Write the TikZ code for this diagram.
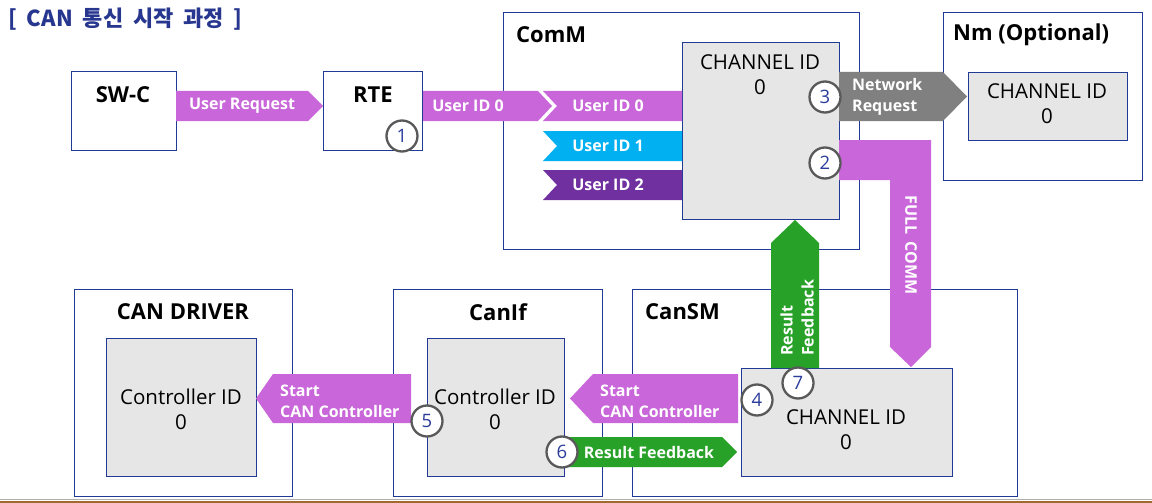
\documentclass[tikz,border=0pt]{standalone}
\usepackage{fontspec}
\setmainfont{Open Sans}
\newfontfamily\krfont{Noto Sans CJK KR}
\definecolor{boxblue}{HTML}{203A96}
\definecolor{ingray}{HTML}{E6E6E6}
\definecolor{apink}{HTML}{C966D9}
\definecolor{acyan}{HTML}{00B0F0}
\definecolor{apurple}{HTML}{7030A0}
\definecolor{agray}{HTML}{808080}
\definecolor{agreen}{HTML}{27A127}
\definecolor{numblue}{HTML}{2B3C9B}
\definecolor{numgray}{HTML}{595959}
\definecolor{titleblue}{HTML}{27368F}
\definecolor{linegray}{HTML}{B0B0B0}
\definecolor{linebrown}{HTML}{A0692D}
\begin{document}
\begin{tikzpicture}[x=1pt,y=-1pt,
  box/.style={draw=boxblue, line width=1pt, anchor=north west, inner sep=0pt},
  inbox/.style={box, fill=ingray},
  ttl/.style={font=\fontsize{22}{26}\selectfont\bfseries, inner sep=0pt},
  idtxt/.style={font=\fontsize{20.5}{25}\selectfont, align=center, inner sep=0pt},
  atxt/.style={text=white, font=\fontsize{16}{21}\selectfont\bfseries, align=left, inner sep=0pt},
  num/.style={circle, draw=numgray, line width=2.3pt, fill=white, minimum size=31pt, inner sep=0pt, text=numblue, font=\fontsize{18.5}{18.5}\selectfont}]
\useasboundingbox (0,0) rectangle (1152,503);
\fill[white] (0,0) rectangle (1152,503);

% title
\node[anchor=west, inner sep=0pt, text=titleblue, font=\krfont\fontsize{22}{24}\selectfont\bfseries] (title) at (8,19) {[\hspace{0.45em}CAN\hspace{0.45em}통신\hspace{0.45em}시작\hspace{0.45em}과정\hspace{0.45em}]};

% outer boxes
\node[box, minimum width=105pt, minimum height=79pt] (swc) at (71,71) {};
\node[box, minimum width=99pt, minimum height=79pt] (rte) at (323,71) {};
\node[box, minimum width=356pt, minimum height=237pt] (comm) at (503,12) {};
\node[box, minimum width=199pt, minimum height=168pt] (nm) at (943,12) {};
\node[box, minimum width=218pt, minimum height=207pt] (drv) at (74,289) {};
\node[box, minimum width=209pt, minimum height=207pt] (canif) at (393,289) {};
\node[box, minimum width=385pt, minimum height=207pt] (cansm) at (632,289) {};

% inner boxes
\node[inbox, minimum width=157pt, minimum height=177pt] (commch) at (682,42) {};
\node[inbox, minimum width=159pt, minimum height=68pt] (nmch) at (968,72) {};
\node[inbox, minimum width=150pt, minimum height=138pt] (drvc) at (106,338) {};
\node[inbox, minimum width=137pt, minimum height=138pt] (ifc) at (427,338) {};
\node[inbox, minimum width=211pt, minimum height=108pt] (smch) at (741,368) {};

% box titles
\node[ttl] (swcl) at (123,95) {SW-C};
\node[ttl] (rtel) at (373,95) {RTE};
\node[ttl, anchor=west] (comml) at (516,35) {ComM};
\node[ttl, anchor=west] (nml) at (953,35) {Nm (Optional)};
\node[ttl] (drvl) at (183,312) {CAN DRIVER};
\node[ttl] (canifl) at (498,312) {CanIf};
\node[ttl, anchor=west] (cansml) at (645,312) {CanSM};

% inner texts
\node[idtxt] (commcht) at (760,75) {CHANNEL ID\\0};
\node[idtxt] (nmcht) at (1047,104) {CHANNEL ID\\0};
\node[idtxt] (drvct) at (181,409) {Controller ID\\0};
\node[idtxt] (ifct) at (495,409) {Controller ID\\0};
\node[idtxt] (smcht) at (846,430) {CHANNEL ID\\0};

% block arrows
\fill[apink] (176,91) -- (308,91) -- (323,106) -- (308,121) -- (176,121) -- cycle;
\node[atxt] (ureq) at (242,106) {User Request};
\fill[apink] (423,91) -- (538,91) -- (552,106) -- (538,121) -- (423,121) -- cycle;
\node[atxt] (uid0a) at (468,106) {User ID 0};
\fill[apink] (543,91) -- (682,91) -- (682,121) -- (543,121) -- (557,106) -- cycle;
\node[atxt] (uid0b) at (608,106) {User ID 0};
\fill[acyan] (543,131) -- (682,131) -- (682,161) -- (543,161) -- (557,146) -- cycle;
\node[atxt] (uid1) at (608,146) {User ID 1};
\fill[apurple] (543,170) -- (682,170) -- (682,200) -- (543,200) -- (557,185) -- cycle;
\node[atxt] (uid2) at (608,185) {User ID 2};

\fill[agray] (839,72) -- (943,72) -- (967,96.5) -- (943,121) -- (839,121) -- cycle;
\node[atxt, anchor=west] (netreq) at (852,97) {Network\\Request};

\fill[apink] (839,140) -- (931,140) -- (931,347) -- (911,367) -- (890,347) -- (890,180) -- (839,180) -- cycle;
\node[atxt, rotate=-90] (full) at (911,245) {FULL\hspace{7pt}COMM};

\fill[agreen] (771,368) -- (771,243) -- (795,220) -- (819,243) -- (819,368) -- cycle;
\node[atxt, rotate=90, anchor=west] (resfb1) at (797,356) {Result\\Feedback};

\fill[apink] (738,374) -- (593,374) -- (570,398.5) -- (593,423) -- (738,423) -- cycle;
\node[atxt, anchor=west] (start2) at (600,401) {Start\\CAN Controller};

\fill[apink] (411,374) -- (273,374) -- (256,398.5) -- (273,423) -- (411,423) -- cycle;
\node[atxt, anchor=west] (start1) at (280,401) {Start\\CAN Controller};

\fill[agreen] (562,437) -- (722,437) -- (737,452) -- (722,467) -- (562,467) -- cycle;
\node[atxt] (resfb2) at (649,452) {Result Feedback};

% step numbers
\node[num] (n1) at (402,136) {1};
\node[num] (n2) at (825,163) {2};
\node[num] (n3) at (825,97) {3};
\node[num] (n4) at (757,400) {4};
\node[num] (n5) at (427,421) {5};
\node[num] (n6) at (562,452) {6};
\node[num] (n7) at (798,383) {7};

% bottom rule
\draw[linegray, line width=1pt] (0,499) -- (1152,499);
\draw[linebrown, line width=2pt] (0,502) -- (1152,502);
\end{tikzpicture}
\end{document}
